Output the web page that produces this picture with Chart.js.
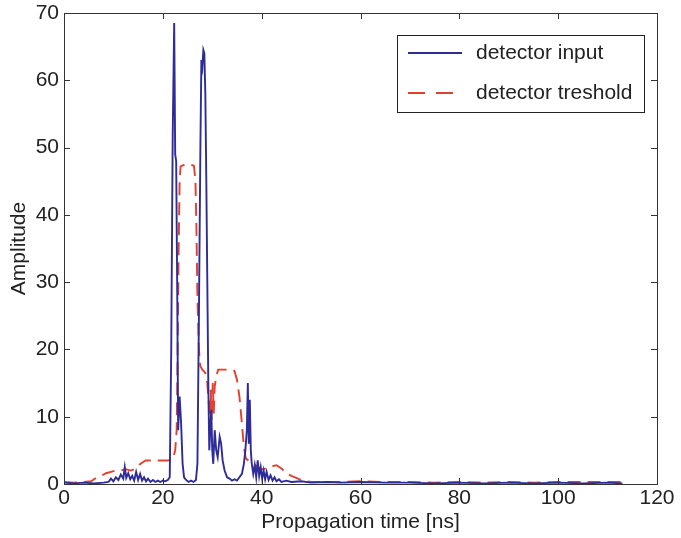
<!DOCTYPE html>
<html>
<head>
<meta charset="utf-8">
<script src="https://cdn.jsdelivr.net/npm/chart.js@4"></script>
<style>
  html, body { margin: 0; padding: 0; background: #fff; }
  #wrap { width: 681px; height: 538px; }
</style>
</head>
<body>
<div id="wrap"><canvas id="grafico" width="681" height="538"></canvas></div>
<script>
// detector input (ns, amplitude)
const inputTime = [0, 2, 4, 6, 8, 9, 9.5, 10, 10.5, 11, 11.5, 12, 12.3, 12.6, 13, 13.4, 13.8, 14.2, 14.6, 15,
  15.4, 15.8, 16.2, 16.6, 17, 17.5, 18, 18.5, 19, 19.5, 20, 20.5, 21, 21.4, 21.7, 22.0, 22.3, 22.5, 22.7, 22.9,
  23.1, 23.4, 23.7, 24.0, 24.3, 24.7, 25.2, 25.7, 26.2, 26.7, 27.0, 27.3, 27.6, 27.8, 28.0, 28.2, 28.4, 28.6, 28.8, 29.0,
  29.2, 29.4, 29.6, 29.8, 30.0, 30.2, 30.5, 30.8, 31.1, 31.5, 31.8, 32.1, 32.5, 33, 33.5, 34, 34.5, 35, 35.5, 36,
  36.4, 36.7, 37.0, 37.2, 37.4, 37.6, 37.8, 38.0, 38.3, 38.6, 38.9, 39.2, 39.5, 39.8, 40.1, 40.4, 40.7, 41.0, 41.4, 41.8,
  42.2, 42.6, 43, 43.5, 44, 45, 46, 48, 50, 53, 56, 60, 65, 70, 75, 80, 85, 90, 95, 100, 105, 110, 113];
const inputAmp = [0.2, 0.1, 0.2, 0.1, 0.2, 0.3, 0.8, 0.4, 1.0, 0.6, 1.4, 0.8, 2.5, 0.9, 1.6, 0.7, 1.2, 0.5, 1.8, 0.6,
  1.5, 0.5, 1.0, 0.4, 0.8, 0.3, 0.6, 0.3, 0.5, 0.3, 0.5, 0.4, 0.6, 1.0, 20, 52, 68.5, 49, 48, 30,
  8, 13, 9, 3, 1, 0.6, 0.3, 0.5, 0.3, 0.6, 3, 25, 50, 63, 62, 64.5, 64, 58, 45, 30,
  15, 5, 8, 11, 5, 3, 8, 5, 4, 7, 6, 3.5, 2, 1, 0.8, 0.5, 0.7, 0.5, 1, 1.5,
  3, 5, 8, 15, 6, 12.5, 5, 3, 1.5, 2.8, 1, 3.5, 1.2, 2.5, 0.8, 2, 0.7, 1.8, 0.6, 1.3,
  0.5, 1, 0.4, 0.7, 0.3, 0.5, 0.3, 0.4, 0.2, 0.3, 0.2, 0.3, 0.2, 0.2, 0.1, 0.2, 0.1, 0.2, 0.1, 0.2, 0.1, 0.2, 0.1];

// detector treshold (ns, amplitude)
const tresholdTime = [0, 2, 4, 5.5, 6.5, 7.5, 8.5, 9.5, 10.5, 11.5, 12.5, 13.5, 14.5, 15.5, 16.5, 18, 19.5, 21, 22, 22.5,
  22.8, 23.0, 23.2, 23.4, 23.6, 24.5, 25.5, 26.3, 26.6, 26.8, 27.0, 27.3, 27.6, 28.0, 28.6, 29.0, 29.3, 29.5, 29.7, 29.9,
  30.1, 30.3, 30.5, 30.8, 31.2, 32.5, 34.0, 34.5, 35.0, 35.5, 36.0, 36.4, 36.8, 37.3, 37.8, 38.3, 39, 40, 41, 42,
  43, 44, 45, 46, 47, 48, 49, 50, 55, 60, 65, 70, 75, 80, 85, 90, 95, 100, 105, 110, 113];
const tresholdAmp = [0.3, 0.2, 0.3, 0.4, 0.9, 1.2, 1.6, 1.8, 2.0, 2.0, 2.2, 2.0, 2.3, 3.0, 3.5, 3.5, 3.5, 3.5, 3.6, 5,
  8, 20, 35, 45, 47.2, 47.5, 47.5, 47.3, 45, 38, 28, 20, 17.5, 17, 16.5, 15, 12, 10, 14, 9.5,
  15, 10.5, 14.5, 16, 17, 17, 17, 16.8, 15.5, 13, 9, 5.5, 3.8, 3.5, 3.2, 3, 2.6, 2.2, 2.3, 2.6,
  2.8, 2.3, 1.6, 1.2, 0.9, 0.6, 0.4, 0.3, 0.3, 0.4, 0.3, 0.3, 0.2, 0.3, 0.2, 0.3, 0.2, 0.3, 0.3, 0.3, 0.3];

const etiquetas = ['detector input', 'detector treshold'];
const colores = ['#2e2c98', '#e2402e'];
const trazo = [[], [13, 7]];

const fuente = '"Liberation Sans", Arial, sans-serif';
const tinta = '#222';
const tam = 21;

function puntos(xs, ys) {
  return xs.map((x, i) => ({ x: x, y: ys[i] }));
}

// marco con marcas hacia dentro, estilo matlab
const marcoPlugin = {
  id: 'marco',
  afterDatasetsDraw(chart) {
    const { ctx, chartArea: a, scales } = chart;
    ctx.save();
    ctx.strokeStyle = '#333';
    ctx.lineWidth = 1;
    ctx.strokeRect(a.left + 0.5, a.top + 0.5, a.right - a.left, a.bottom - a.top);
    const L = 6;
    ctx.beginPath();
    scales.x.ticks.forEach(t => {
      const px = Math.round(scales.x.getPixelForValue(t.value)) + 0.5;
      ctx.moveTo(px, a.bottom); ctx.lineTo(px, a.bottom - L);
      ctx.moveTo(px, a.top); ctx.lineTo(px, a.top + L);
    });
    scales.y.ticks.forEach(t => {
      const py = Math.round(scales.y.getPixelForValue(t.value)) + 0.5;
      ctx.moveTo(a.left, py); ctx.lineTo(a.left + L, py);
      ctx.moveTo(a.right, py); ctx.lineTo(a.right - L, py);
    });
    ctx.stroke();

    // leyenda
    const bx = 397, by = 35, bw = 247, bh = 77;
    ctx.fillStyle = '#fff';
    ctx.fillRect(bx, by, bw, bh);
    ctx.strokeStyle = '#222';
    ctx.strokeRect(bx + 0.5, by + 0.5, bw, bh);
    ctx.font = tam + 'px ' + fuente;
    ctx.textBaseline = 'middle';
    chart.data.datasets.forEach((ds, i) => {
      const y = by + 18 + i * 40;
      ctx.strokeStyle = ds.borderColor;
      ctx.lineWidth = 2;
      ctx.setLineDash(i === 1 ? [17, 11] : []);
      ctx.beginPath();
      ctx.moveTo(bx + 11, y); ctx.lineTo(bx + 65, y);
      ctx.stroke();
      ctx.setLineDash([]);
      ctx.fillStyle = tinta;
      ctx.fillText(ds.label, bx + 79, y);
    });
    ctx.restore();
  }
};

const ctx = document.getElementById('grafico').getContext('2d');
const grafico = new Chart(ctx, {
  type: 'line',
  data: {
    datasets: [
      {
        label: etiquetas[0],
        data: puntos(inputTime, inputAmp),
        borderColor: colores[0],
        borderWidth: 1.9,
        borderDash: trazo[0],
        pointRadius: 0,
        tension: 0
      },
      {
        label: etiquetas[1],
        data: puntos(tresholdTime, tresholdAmp),
        borderColor: colores[1],
        borderWidth: 1.9,
        borderDash: trazo[1],
        pointRadius: 0,
        tension: 0
      }
    ]
  },
  options: {
    responsive: false,
    animation: false,
    layout: { padding: { top: 13, right: 24, left: 0, bottom: 0 } },
    plugins: {
      legend: { display: false },
      tooltip: { enabled: false }
    },
    scales: {
      x: {
        type: 'linear',
        min: 0,
        max: 120,
        ticks: { stepSize: 20, color: tinta, font: { family: fuente, size: tam }, padding: 2, maxRotation: 0 },
        grid: { display: false, drawTicks: false },
        border: { display: false },
        title: { display: true, text: 'Propagation time [ns]', color: tinta, font: { family: fuente, size: tam }, padding: { top: 0, bottom: 3 } },
        afterFit(scale) { scale.height = 54; }
      },
      y: {
        min: 0,
        max: 70,
        ticks: { stepSize: 10, color: tinta, font: { family: fuente, size: tam }, padding: 5 },
        grid: { display: false, drawTicks: false },
        border: { display: false },
        title: { display: true, text: 'Amplitude', color: tinta, font: { family: fuente, size: tam }, padding: { top: 7, bottom: 0 } },
        afterFit(scale) {
          scale.width = 64;
          scale.paddingTop = 0;
          scale.paddingBottom = 0;
        }
      }
    }
  },
  plugins: [marcoPlugin]
});
</script>
</body>
</html>
